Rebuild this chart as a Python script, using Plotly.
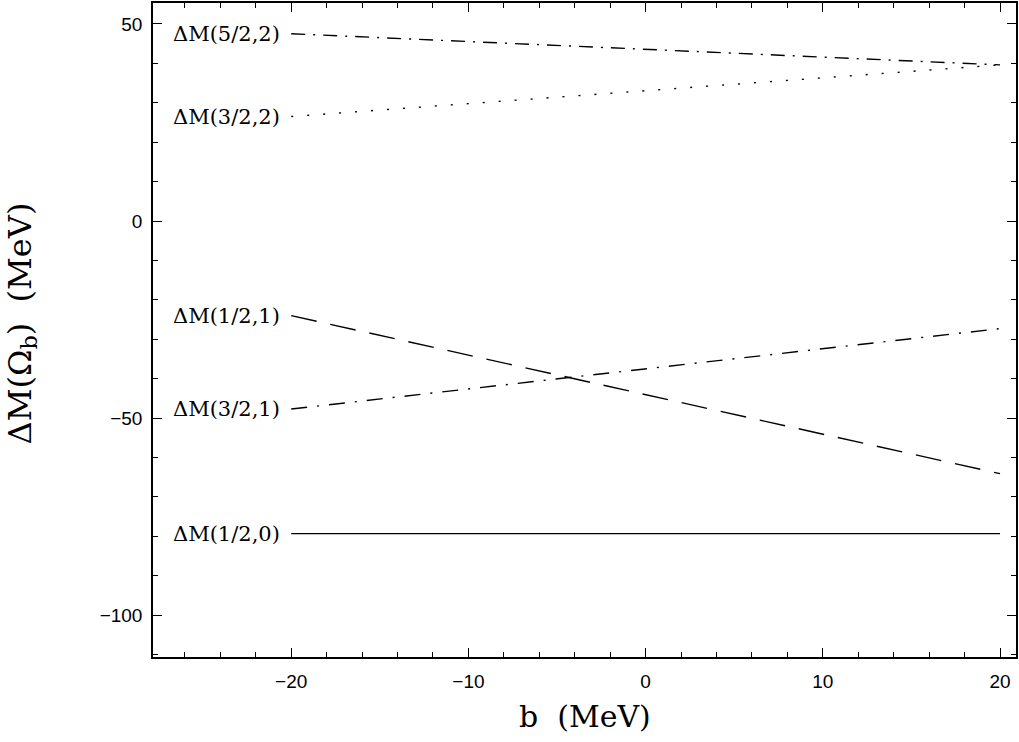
import plotly.graph_objects as go

b = [-20, 20]
labels = ["ΔM(5/2,2)", "ΔM(3/2,2)", "ΔM(1/2,1)", "ΔM(3/2,1)", "ΔM(1/2,0)"]
dm_52_2 = [47.5, 39.6]
dm_32_2 = [26.5, 39.6]
dm_12_1 = [-24.0, -64.1]
dm_32_1 = [-47.7, -27.3]
dm_12_0 = [-79.3, -79.3]

series = [dm_52_2, dm_32_2, dm_12_1, dm_32_1, dm_12_0]
dashes = ["14px,8px,2px,8px", "2px,14px", "26px,14px", "16px,10px,2px,10px", "solid"]

fig = go.Figure()
for lab, ys, d in zip(labels, series, dashes):
    fig.add_trace(go.Scatter(x=b, y=ys, mode="lines",
                             line=dict(color="black", width=1.4, dash=d),
                             showlegend=False, name=lab))
    fig.add_annotation(x=b[0], y=ys[0], text=lab, showarrow=False,
                       xanchor="right", yanchor="middle", xshift=-9,
                       font=dict(family="DejaVu Serif", size=21, color="black"))

axis_common = dict(showgrid=False, zeroline=False, showline=True, linecolor="black",
                   linewidth=1.5, mirror="ticks", ticks="inside", ticklen=9,
                   tickwidth=1.3, tickcolor="black",
                   tickfont=dict(family="Liberation Sans", size=19, color="black"))

fig.update_xaxes(range=[-27.8, 20.9], tickvals=[-20, -10, 0, 10, 20],
                 ticktext=["−20", "−10", "0", "10", "20"], ticklabelstandoff=6,
                 minor=dict(dtick=2, ticks="inside", ticklen=5, tickcolor="black", tickwidth=1.2),
                 **axis_common)
fig.update_yaxes(range=[-110.6, 55.3], tickvals=[-100, -50, 0, 50],
                 ticktext=["−100", "−50", "0", "50"], ticklabelstandoff=5,
                 minor=dict(dtick=10, ticks="inside", ticklen=5, tickcolor="black", tickwidth=1.2),
                 **axis_common)

fig.add_annotation(xref="paper", yref="paper", x=0.5, y=0, yshift=-59,
                   text="b  (MeV)", showarrow=False, xanchor="center", yanchor="middle",
                   font=dict(family="DejaVu Serif", size=30, color="black"))
fig.add_annotation(xref="paper", yref="paper", x=0, y=0.51, xshift=-131,
                   text="ΔM(Ω<sub>b</sub>)  (MeV)", showarrow=False, textangle=-90,
                   xanchor="center", yanchor="middle",
                   font=dict(family="DejaVu Serif", size=32, color="black"))

fig.update_layout(width=1019, height=742, plot_bgcolor="white", paper_bgcolor="white",
                  margin=dict(l=153, r=3, t=1, b=85))
fig.write_html("out.html")
